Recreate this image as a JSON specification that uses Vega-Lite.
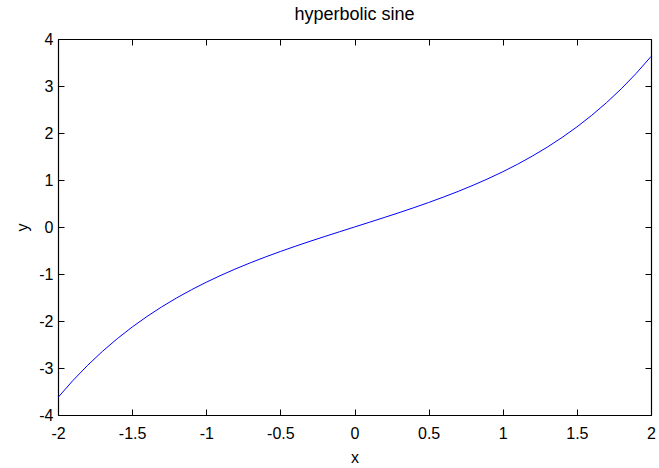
{
  "$schema": "https://vega.github.io/schema/vega-lite/v6.json",
  "width": 593,
  "height": 376,
  "autosize": {"type": "none"},
  "padding": {"left": 58, "top": 39, "right": 8, "bottom": 53},
  "background": "white",
  "title": {"text": "hyperbolic sine", "font": "Liberation Sans", "fontSize": 18, "fontWeight": "normal", "color": "black", "offset": 7},
  "config": {
    "view": {"stroke": null},
    "axis": {"labelFont": "Liberation Sans", "labelFontSize": 16, "labelColor": "black", "titleFont": "Liberation Sans", "titleFontSize": 16, "titleFontWeight": "normal", "titleColor": "black", "domainColor": "black", "tickColor": "black", "grid": false, "tickSize": -6, "domainWidth": 1.2, "labelExpr": "toString(datum.value)"}
  },
  "data": {"values": [
    {"x": -2.0, "y": -3.6269}, {"x": -1.9, "y": -3.2682}, {"x": -1.8, "y": -2.9422}, {"x": -1.7, "y": -2.6456},
    {"x": -1.6, "y": -2.3756}, {"x": -1.5, "y": -2.1293}, {"x": -1.4, "y": -1.9043}, {"x": -1.3, "y": -1.6984},
    {"x": -1.2, "y": -1.5095}, {"x": -1.1, "y": -1.3356}, {"x": -1.0, "y": -1.1752}, {"x": -0.9, "y": -1.0265},
    {"x": -0.8, "y": -0.8881}, {"x": -0.7, "y": -0.7586}, {"x": -0.6, "y": -0.6367}, {"x": -0.5, "y": -0.5211},
    {"x": -0.4, "y": -0.4108}, {"x": -0.3, "y": -0.3045}, {"x": -0.2, "y": -0.2013}, {"x": -0.1, "y": -0.1002},
    {"x": 0.0, "y": 0.0},
    {"x": 0.1, "y": 0.1002}, {"x": 0.2, "y": 0.2013}, {"x": 0.3, "y": 0.3045}, {"x": 0.4, "y": 0.4108},
    {"x": 0.5, "y": 0.5211}, {"x": 0.6, "y": 0.6367}, {"x": 0.7, "y": 0.7586}, {"x": 0.8, "y": 0.8881},
    {"x": 0.9, "y": 1.0265}, {"x": 1.0, "y": 1.1752}, {"x": 1.1, "y": 1.3356}, {"x": 1.2, "y": 1.5095},
    {"x": 1.3, "y": 1.6984}, {"x": 1.4, "y": 1.9043}, {"x": 1.5, "y": 2.1293}, {"x": 1.6, "y": 2.3756},
    {"x": 1.7, "y": 2.6456}, {"x": 1.8, "y": 2.9422}, {"x": 1.9, "y": 3.2682}, {"x": 2.0, "y": 3.6269}
  ]},
  "layer": [
    {
      "mark": {"type": "line", "color": "#0000ff", "strokeWidth": 1, "clip": true},
      "encoding": {
        "x": {"field": "x", "type": "quantitative", "scale": {"domain": [-2, 2], "nice": false, "zero": false},
              "axis": {"orient": "bottom", "values": [-2, -1.5, -1, -0.5, 0, 0.5, 1, 1.5, 2], "labelPadding": 16, "title": "x", "titlePadding": 8, "labelFlush": false}},
        "y": {"field": "y", "type": "quantitative", "scale": {"domain": [-4, 4], "nice": false, "zero": false},
              "axis": {"orient": "left", "values": [-4, -3, -2, -1, 0, 1, 2, 3, 4], "labelPadding": 11, "title": "y", "titlePadding": 8, "labelFlush": false}}
      }
    },
    {
      "mark": {"type": "line", "strokeOpacity": 0},
      "encoding": {
        "x": {"field": "x", "type": "quantitative", "scale": {"domain": [-2, 2], "nice": false, "zero": false},
              "axis": {"orient": "top", "values": [-2, -1.5, -1, -0.5, 0, 0.5, 1, 1.5, 2], "labels": false, "title": null}},
        "y": {"field": "y", "type": "quantitative", "scale": {"domain": [-4, 4], "nice": false, "zero": false},
              "axis": {"orient": "right", "values": [-4, -3, -2, -1, 0, 1, 2, 3, 4], "labels": false, "title": null}}
      }
    }
  ],
  "resolve": {"axis": {"x": "independent", "y": "independent"}}
}
